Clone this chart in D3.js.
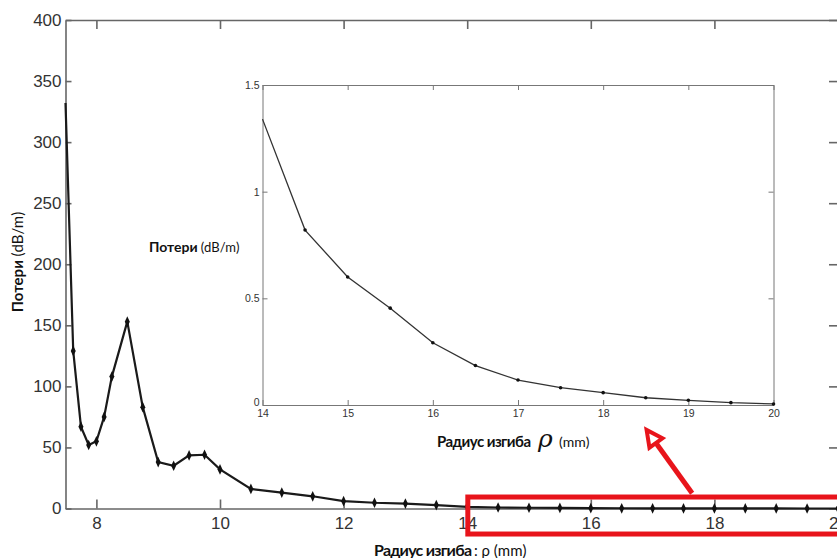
<!DOCTYPE html>
<html>
<head>
<meta charset="utf-8">
<script src="https://cdn.jsdelivr.net/npm/d3@7"></script>
<style>
    body { margin: 0; background: #fff; }
    svg { display: block; }
    .tick text { font-family: "Liberation Sans", Arial, sans-serif; fill: #333; }
    .lbl { font-family: Lato, "Open Sans", sans-serif; fill: #111; }
</style>
</head>
<body>
<svg id="chart" width="837" height="558"></svg>
<script>
    // main curve: bend radius (mm) vs loss (dB/m)
    var mainRadius = [7.5, 7.625, 7.75, 7.875, 8, 8.125, 8.25, 8.5, 8.75, 9, 9.25, 9.5, 9.75, 10,
        10.5, 11, 11.5, 12, 12.5, 13, 13.5,
        14, 14.5, 15, 15.5, 16, 16.5, 17, 17.5, 18, 18.5, 19, 19.5, 20];
    var mainLoss = [332, 129, 67, 52, 55, 75, 108, 153, 83, 38, 35, 43.5, 44, 32,
        16, 13, 10, 6, 4.7, 4, 2.8,
        1.34, 0.82, 0.6, 0.454, 0.292, 0.185, 0.117, 0.081, 0.058, 0.034, 0.022, 0.011, 0.005];

    // zoomed inset 14..20 mm
    var insetRadius = [14, 14.5, 15, 15.5, 16, 16.5, 17, 17.5, 18, 18.5, 19, 19.5, 20];
    var insetLoss = [1.34, 0.82, 0.6, 0.454, 0.292, 0.185, 0.117, 0.081, 0.058, 0.034, 0.022, 0.011, 0.005];

    var mainXTicks = [8, 10, 12, 14, 16, 18, 20];
    var mainYTicks = [0, 50, 100, 150, 200, 250, 300, 350, 400];
    var insetXTicks = [14, 15, 16, 17, 18, 19, 20];
    var insetYTicks = [0, 0.5, 1, 1.5];

    var fmt = d3.format('~g');
    var svg = d3.select('#chart');

    // ---- main axes ----
    var x = d3.scaleLinear().domain([7.5, 20]).range([65.5, 838]);
    var y = d3.scaleLinear().domain([0, 400]).range([508.5, 20]);

    var gMain = svg.append('g');

    function styleAxis(g, col, w) {
        g.select('.domain').attr('stroke', col).attr('stroke-width', w);
        g.selectAll('.tick line').attr('stroke', col).attr('stroke-width', w);
    }

    var ax = gMain.append('g').attr('transform', 'translate(0,' + y(0) + ')')
        .call(d3.axisBottom(x).tickValues(mainXTicks).tickFormat(fmt).tickSize(-9).tickSizeOuter(0).tickPadding(8));
    ax.selectAll('text').attr('font-size', 17);
    styleAxis(ax, '#666', 1.6);

    gMain.append('g').attr('transform', 'translate(0,' + y(400) + ')')
        .call(d3.axisTop(x).tickValues(mainXTicks).tickSize(-9).tickSizeOuter(0).tickFormat(''))
        .call(styleAxis, '#666', 1.6);

    var ay = gMain.append('g').attr('transform', 'translate(' + x(7.5) + ',0)')
        .call(d3.axisLeft(y).tickValues(mainYTicks).tickFormat(fmt).tickSize(-6).tickSizeOuter(0).tickPadding(4));
    ay.selectAll('text').attr('font-size', 17);
    styleAxis(ay, '#666', 1.6);

    gMain.append('g').attr('transform', 'translate(' + x(20) + ',0)')
        .call(d3.axisRight(y).tickValues(mainYTicks).tickSize(-9).tickSizeOuter(0).tickFormat(''))
        .call(styleAxis, '#666', 1.6);

    var mainPts = mainRadius.map(function(r, i) { return [r, mainLoss[i]]; });
    var line = d3.line().x(function(d) { return x(d[0]); }).y(function(d) { return y(d[1]); });

    gMain.append('path').datum(mainPts)
        .attr('fill', 'none').attr('stroke', '#1a1a1a').attr('stroke-width', 2.2)
        .attr('d', line);

    gMain.selectAll('.mk').data(mainPts.slice(1)).enter().append('path')
        .attr('class', 'mk')
        .attr('transform', function(d) { return 'translate(' + x(d[0]) + ',' + y(d[1]) + ') scale(0.85,1.05)'; })
        .attr('d', d3.symbol().type(d3.symbolDiamond).size(30))
        .attr('fill', '#111');

    // main labels
    var xl = svg.append('text').attr('class', 'lbl').attr('y', 556).attr('font-size', 16);
    xl.append('tspan').attr('x', 374).attr('font-weight', 'bold').attr('textLength', 98).text('Радиус изгиба');
    xl.append('tspan').attr('x', 474).attr('font-size', 15).text(': ρ (mm)');

    var yl = svg.append('text').attr('class', 'lbl').attr('font-size', 15)
        .attr('transform', 'translate(23,262) rotate(-90)').attr('text-anchor', 'middle');
    yl.append('tspan').attr('font-weight', 'bold').text('Потери ');
    yl.append('tspan').text('(dB/m)');

    // ---- inset ----
    var ix = d3.scaleLinear().domain([14, 20]).range([262.5, 773.5]);
    var iy = d3.scaleLinear().domain([0, 1.5]).range([405, 85]);

    var gIn = svg.append('g');
    gIn.append('rect').attr('x', ix(14)).attr('y', iy(1.5))
        .attr('width', ix(20) - ix(14)).attr('height', iy(0) - iy(1.5)).attr('fill', '#fff');

    var iax = gIn.append('g').attr('transform', 'translate(0,' + iy(0) + ')')
        .call(d3.axisBottom(ix).tickValues(insetXTicks).tickFormat(fmt).tickSize(-5).tickSizeOuter(0).tickPadding(5));
    iax.selectAll('text').attr('font-size', 10.5);
    styleAxis(iax, '#777', 1);

    gIn.append('g').attr('transform', 'translate(0,' + iy(1.5) + ')')
        .call(d3.axisTop(ix).tickValues(insetXTicks).tickSize(-5).tickSizeOuter(0).tickFormat(''))
        .call(styleAxis, '#777', 1);

    var iay = gIn.append('g').attr('transform', 'translate(' + ix(14) + ',0)')
        .call(d3.axisLeft(iy).tickValues(insetYTicks).tickFormat(fmt).tickSize(-5).tickSizeOuter(0).tickPadding(3));
    iay.selectAll('text').attr('font-size', 10.5);
    iay.selectAll('.tick').filter(function(d) { return d === 0; }).select('text').attr('dy', '0.05em');
    styleAxis(iay, '#777', 1);

    gIn.append('g').attr('transform', 'translate(' + ix(20) + ',0)')
        .call(d3.axisRight(iy).tickValues(insetYTicks).tickSize(-5).tickSizeOuter(0).tickFormat(''))
        .call(styleAxis, '#777', 1);

    var inPts = insetRadius.map(function(r, i) { return [r, insetLoss[i]]; });
    var iline = d3.line().x(function(d) { return ix(d[0]); }).y(function(d) { return iy(d[1]); });

    gIn.append('path').datum(inPts)
        .attr('fill', 'none').attr('stroke', '#333').attr('stroke-width', 1.3)
        .attr('d', iline);

    gIn.selectAll('.dot').data(inPts.slice(1)).enter().append('circle')
        .attr('class', 'dot')
        .attr('cx', function(d) { return ix(d[0]); })
        .attr('cy', function(d) { return iy(d[1]); })
        .attr('r', 1.8).attr('fill', '#111');

    var il = svg.append('text').attr('class', 'lbl').attr('x', 149).attr('y', 252).attr('font-size', 14);
    il.append('tspan').attr('font-weight', 'bold').text('Потери');
    il.append('tspan').attr('dx', 3).attr('font-size', 13).text('(dB/m)');

    var ixl = svg.append('text').attr('class', 'lbl').attr('y', 447).attr('font-size', 15);
    ixl.append('tspan').attr('x', 437).attr('font-weight', 'bold').attr('textLength', 94).text('Радиус изгиба');
    ixl.append('tspan').attr('x', 538).attr('font-size', 25).attr('font-style', 'italic')
        .attr('font-family', '"DejaVu Serif", serif').text('ρ');
    ixl.append('tspan').attr('x', 559).attr('font-size', 14).text('(mm)');

    // ---- red annotation: box on main axes, arrow into the inset ----
    var red = '#e8141b';
    svg.append('rect')
        .attr('x', x(14.01)).attr('y', y(9.4))
        .attr('width', x(20.6) - x(14.01)).attr('height', y(-20.9) - y(9.4))
        .attr('fill', 'none').attr('stroke', red).attr('stroke-width', 5);

    var tail = [x(17.64), y(12.5)];
    var tip = [ix(18.51), iy(-0.117)];
    var ang = Math.atan2(tip[1] - tail[1], tip[0] - tail[0]);
    var headLen = 16, headW = 8;
    var base = [tip[0] - headLen * Math.cos(ang), tip[1] - headLen * Math.sin(ang)];

    svg.append('line')
        .attr('x1', tail[0]).attr('y1', tail[1]).attr('x2', base[0]).attr('y2', base[1])
        .attr('stroke', red).attr('stroke-width', 5);
    svg.append('path')
        .attr('d', 'M' + tip[0] + ',' + tip[1] +
            'L' + (base[0] + headW * Math.sin(ang)) + ',' + (base[1] - headW * Math.cos(ang)) +
            'L' + (base[0] - headW * Math.sin(ang)) + ',' + (base[1] + headW * Math.cos(ang)) + 'Z')
        .attr('fill', '#fff').attr('stroke', red).attr('stroke-width', 4).attr('stroke-linejoin', 'miter');
</script>
</body>
</html>
